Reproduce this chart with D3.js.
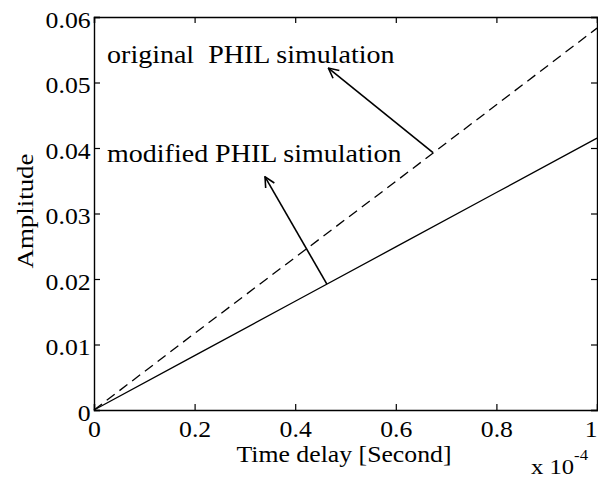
<!DOCTYPE html>
<html>
<head>
<meta charset="utf-8">
<script src="https://cdn.jsdelivr.net/npm/d3@7"></script>
<style>
  body { margin: 0; background: #fff; }
  text { font-family: "Liberation Serif", "Times New Roman", Times, serif; fill: #000; }
</style>
</head>
<body>
<div id="chart"></div>
<script>
// time delay in units of 1e-4 s
var delays = [0, 0.2, 0.4, 0.6, 0.8, 1.0];
var originalAmp = [0, 0.0117, 0.0233, 0.0349, 0.0466, 0.0583];
var modifiedAmp = [0, 0.0083, 0.0166, 0.0249, 0.0332, 0.0415];
var xTicks = [0, 0.2, 0.4, 0.6, 0.8, 1];
var yTicks = [0, 0.01, 0.02, 0.03, 0.04, 0.05, 0.06];

var labelOriginal = "original\u00a0 PHIL simulation";
var labelModified = "modified PHIL simulation";

var width = 598, height = 479;
var margin = {left: 94, right: 1, top: 17, bottom: 69};
var stretch = 1.12; // scanned text is a bit wider than it is tall

var svg = d3.select("#chart").append("svg")
    .attr("width", width).attr("height", height);

var x = d3.scaleLinear().domain([0, 1]).range([margin.left, width - margin.right]);
var y = d3.scaleLinear().domain([0, 0.06]).range([height - margin.bottom, margin.top]);

svg.append("defs").append("marker")
    .attr("id", "arrow").attr("viewBox", "0 0 12 12")
    .attr("refX", 11).attr("refY", 6)
    .attr("markerWidth", 12).attr("markerHeight", 12)
    .attr("markerUnits", "userSpaceOnUse")
    .attr("orient", "auto")
    .append("path").attr("d", "M1,1 L11,6 L1,11")
    .attr("fill", "none").attr("stroke", "#000").attr("stroke-width", 1.6);

// axes with inward ticks, MATLAB box style
var tickLen = 6;
var xAxis = svg.append("g").attr("transform", "translate(0," + y(0) + ")")
    .call(d3.axisBottom(x).tickValues(xTicks).tickSize(-tickLen).tickPadding(11).tickFormat(d3.format("~g")));
svg.append("g").attr("transform", "translate(0," + y(0.06) + ")")
    .call(d3.axisTop(x).tickValues(xTicks).tickSize(-tickLen).tickFormat(""));
var yAxis = svg.append("g").attr("transform", "translate(" + x(0) + ",0)")
    .call(d3.axisLeft(y).tickValues(yTicks).tickSize(-tickLen).tickPadding(3).tickFormat(d3.format("~g")));
svg.append("g").attr("transform", "translate(" + x(1) + ",0)")
    .call(d3.axisRight(y).tickValues(yTicks).tickSize(-tickLen).tickFormat(""));

svg.selectAll(".domain").attr("stroke", "#000").attr("stroke-width", 1.4);
svg.selectAll(".tick line").attr("stroke", "#000").attr("stroke-width", 1.2);
svg.selectAll(".tick text")
    .style("font-size", "23px").attr("fill", "#000")
    .attr("transform", "scale(" + stretch + ",1)");
yAxis.selectAll(".tick text").attr("dy", "0.45em");
// last x label sits against the right edge
xAxis.selectAll(".tick text").filter(function (d) { return d === 1; }).attr("dx", "-0.25em");

var line = d3.line()
    .x(function (d, i) { return x(delays[i]); })
    .y(function (d) { return y(d); });

svg.append("path").datum(originalAmp)
    .attr("d", line).attr("fill", "none")
    .attr("stroke", "#000").attr("stroke-width", 1.3)
    .attr("stroke-dasharray", "10,6");

svg.append("path").datum(modifiedAmp)
    .attr("d", line).attr("fill", "none")
    .attr("stroke", "#000").attr("stroke-width", 1.3);

// text helper: place text at (px, py) with horizontal stretch
function label(px, py, size, txt, anchor, rot) {
    return svg.append("text")
        .attr("transform", "translate(" + px + "," + py + ")" + (rot ? " rotate(" + rot + ")" : "") + " scale(" + stretch + ",1)")
        .attr("text-anchor", anchor || "start")
        .style("font-size", size + "px")
        .text(txt);
}

// annotations
label(x(0.026), 63, 25, labelOriginal);
label(x(0.026), 162, 25, labelModified);

svg.append("line")
    .attr("x1", x(0.674)).attr("y1", y(0.0583 * 0.674))
    .attr("x2", x(0.466)).attr("y2", y(0.0522))
    .attr("stroke", "#000").attr("stroke-width", 1.6)
    .attr("marker-end", "url(#arrow)");
svg.append("line")
    .attr("x1", x(0.463)).attr("y1", y(0.0415 * 0.463))
    .attr("x2", x(0.34)).attr("y2", y(0.0356))
    .attr("stroke", "#000").attr("stroke-width", 1.6)
    .attr("marker-end", "url(#arrow)");

// axis titles
label(344, 462, 23, "Time delay [Second]", "middle");
label(33, 211, 24, "Amplitude", "middle", -90);

var exp = label(531, 474, 22, "x 10");
exp.append("tspan").attr("dy", -14).style("font-size", "15px").text("-4");
</script>
</body>
</html>
